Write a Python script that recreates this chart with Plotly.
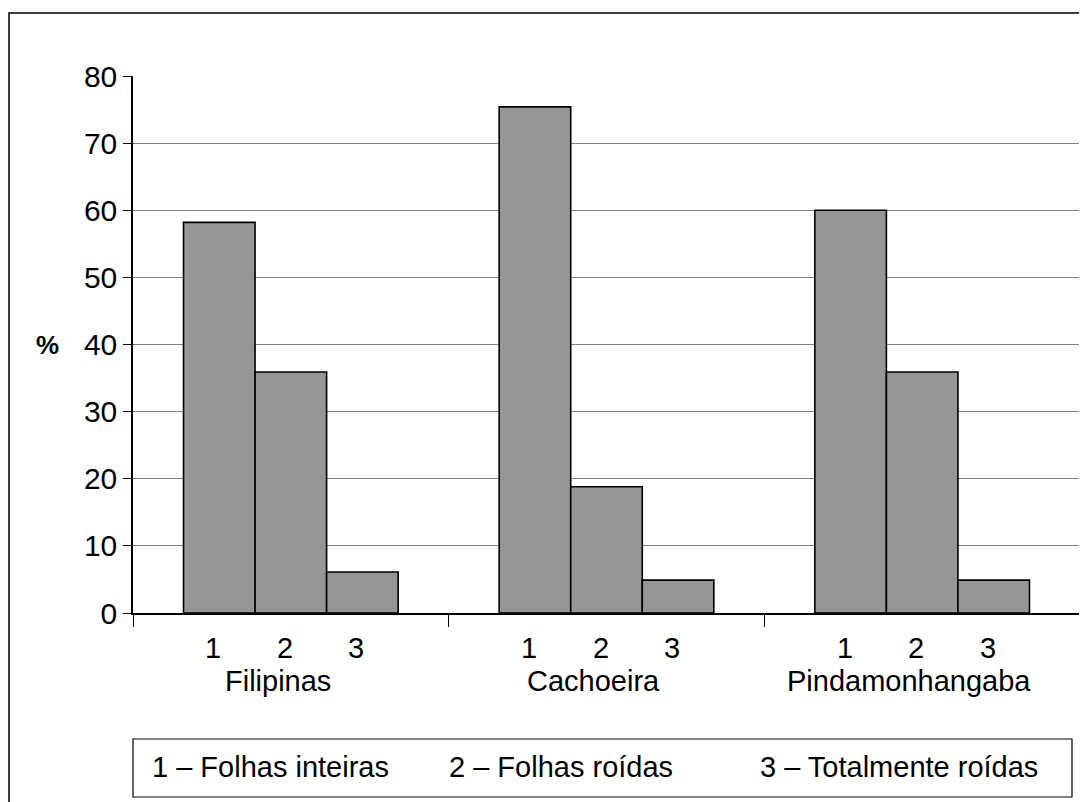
import plotly.graph_objects as go

# ---- data ----
groups = ["Filipinas", "Cachoeira", "Pindamonhangaba"]
series_labels = ["1", "2", "3"]
folhas_inteiras = [58.2, 75.4, 60.0]
folhas_roidas = [35.9, 18.8, 35.9]
totalmente_roidas = [6.1, 4.9, 4.9]
series_values = [folhas_inteiras, folhas_roidas, totalmente_roidas]
legend_texts = ["1 – Folhas inteiras", "2 – Folhas roídas", "3 – Totalmente roídas"]
y_title = "%"

# ---- layout constants (page pixel coords; page body has an 8px margin) ----
OFF = 8
W, H = 1087 - OFF, 802 - OFF
L, R, T, B = 133 - OFF, 7, 76 - OFF, 189
PW, PH = W - L - R, H - T - B
BARGAP = 0.32
FONT = "Liberation Sans, Arial, sans-serif"
FS = 29


def px_x(x):
    return (x - OFF - L) / PW


def px_y(y):
    return (H - B - (y - OFF)) / PH


fig = go.Figure()
for lab, vals in zip(series_labels, series_values):
    fig.add_trace(go.Bar(
        x=groups, y=vals, name=lab,
        marker=dict(color="#969696", line=dict(color="black", width=1.6)),
        showlegend=False,
    ))

annotations = []
barw = (1 - BARGAP) / len(series_labels)
for gi, g in enumerate(groups):
    for si, s in enumerate(series_labels):
        annotations.append(dict(
            x=gi + (si - (len(series_labels) - 1) / 2) * barw, xref="x",
            y=0, yref="paper", yanchor="middle", xanchor="center",
            yshift=-35, xshift=-6, text=s, showarrow=False,
            font=dict(family=FONT, size=FS, color="black")))
    annotations.append(dict(
        x=g, xref="x", y=0, yref="paper", yanchor="middle", xanchor="center",
        yshift=-68, xshift=-13, text=g, showarrow=False,
        font=dict(family=FONT, size=FS, color="black")))

annotations.append(dict(
    x=0, xref="paper", xshift=-86, y=0.5, yref="paper", text="<b>" + y_title + "</b>",
    showarrow=False, xanchor="center", yanchor="middle",
    font=dict(family=FONT, size=26, color="black")))

legend_centers = [270, 561, 899]
for txt, cx in zip(legend_texts, legend_centers):
    annotations.append(dict(
        x=px_x(cx), xref="paper", y=px_y(767), yref="paper", text=txt,
        showarrow=False, xanchor="center", yanchor="middle",
        font=dict(family=FONT, size=FS, color="black")))

shapes = [
    dict(type="rect", xref="paper", yref="paper",
         x0=px_x(OFF + 1), x1=px_x(1110), y0=px_y(13), y1=px_y(830),
         line=dict(color="black", width=1.5), fillcolor="rgba(0,0,0,0)", layer="below"),
    dict(type="rect", xref="paper", yref="paper",
         x0=px_x(133), x1=px_x(1072), y0=px_y(739), y1=px_y(797),
         line=dict(color="black", width=1.2), fillcolor="rgba(0,0,0,0)"),
]

fig.update_layout(
    width=W, height=H,
    margin=dict(l=L, r=R, t=T, b=B, pad=0),
    paper_bgcolor="white", plot_bgcolor="white",
    barmode="group", bargap=BARGAP, bargroupgap=0,
    font=dict(family=FONT, size=FS, color="black"),
    annotations=annotations, shapes=shapes,
    xaxis=dict(
        type="category", showticklabels=False, ticks="outside", tickson="boundaries",
        ticklen=12, tickcolor="black", tickwidth=1.2,
        showline=True, linecolor="black", linewidth=1.5, showgrid=False,
        range=[-0.5, 2.5],
    ),
    yaxis=dict(
        range=[0, 80], dtick=10, ticks="outside", ticklen=8, tickcolor="black",
        tickwidth=1.2, showline=True, linecolor="black", linewidth=1.5,
        showgrid=True, gridcolor="#808080", gridwidth=1.2, zeroline=False,
        tickfont=dict(family=FONT, size=30, color="black"),
    ),
)

fig.write_html("out.html")
